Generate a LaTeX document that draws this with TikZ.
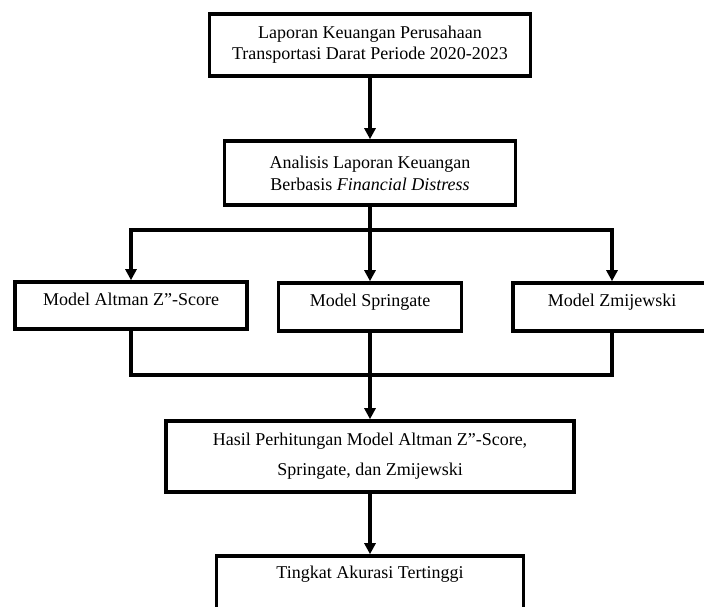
\documentclass[tikz,border=0pt]{standalone}
\usepackage{fontspec}
\setmainfont{Liberation Serif}
\usepackage{tikz}
\usetikzlibrary{positioning,arrows.meta}

\begin{document}
\begin{tikzpicture} [x=1pt, y=-1pt,
		box/.style={draw=black, rectangle, line width=3.6pt, inner sep=0pt, align=center, font={\fontsize{18}{21}\selectfont}},
		wire/.style={draw=black, line width=3.6pt},
		flow/.style={wire, -{Triangle[width=11pt,length=11pt]}}]
				\useasboundingbox (0, 0) rectangle (704, 606);
				\clip (0, 0) rectangle (704, 606);
				\node [box, minimum width=321, minimum height=62] (lap) at (370, 45) {Laporan Keuangan Perusahaan\\Transportasi Darat Periode 2020-2023};
				\node [box, minimum width=291, minimum height=64, font={\fontsize{18}{22}\selectfont}] (ana) at (370, 173) {Analisis Laporan Keuangan\\Berbasis \textit{Financial Distress}};
				\node [box, minimum width=232, minimum height=47, text height=13pt, text depth=14pt] (alt) at (131, 305.5) {Model Altman Z”-Score};
				\node [box, minimum width=183, minimum height=48, text height=13pt, text depth=14pt] (spr) at (370, 307) {Model Springate};
				\node [box, minimum width=198, minimum height=48, text height=13pt, text depth=14pt] (zmi) at (612, 307) {Model Zmijewski};
				\node [box, minimum width=408, minimum height=71, font={\fontsize{18}{30}\selectfont}] (has) at (370, 456.5) {Hasil Perhitungan Model Altman Z”-Score,\\Springate, dan Zmijewski};
				\node [box, minimum width=307, minimum height=71, text height=13pt, text depth=40pt] (tin) at (370, 591.5) {Tingkat Akurasi Tertinggi};
				% bercabang ke tiga model
				\coordinate (split) at (370, 230);
				\coordinate (merge) at (370, 375);
				\draw [flow] (lap.south)--(ana.north);
				\draw [wire] (ana.south)--(split);
				\draw [flow] (split)--(spr.north);
				\draw [flow] (split)-|(alt.north);
				\draw [flow] (split)-|(zmi.north);
				% bergabung kembali
				\draw [wire] (alt.south)|-(merge);
				\draw [wire] (zmi.south)|-(merge);
				\draw [flow] (spr.south)--(has.north);
				\draw [flow] (has.south)--(tin.north);

			\end{tikzpicture}
\end{document}
